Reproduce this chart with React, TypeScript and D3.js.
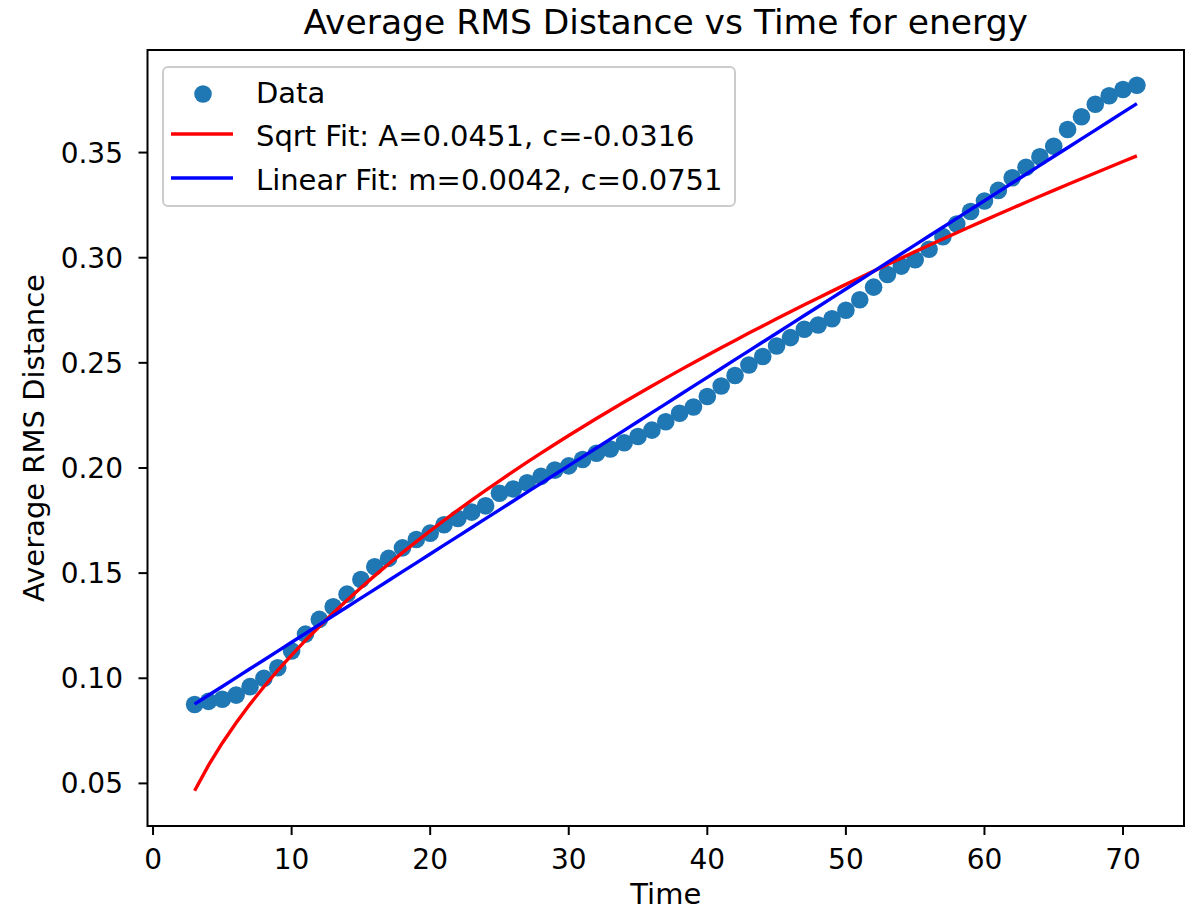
import React from "react";
import * as d3 from "d3";

const times: number[] = [
  3, 4, 5, 6, 7, 8, 9, 10, 11, 12, 13, 14, 15, 16, 17, 18, 19, 20, 21, 22, 23, 24, 25, 26, 27, 28, 29, 30,
  31, 32, 33, 34, 35, 36, 37, 38, 39, 40, 41, 42, 43, 44, 45, 46, 47, 48, 49, 50, 51, 52, 53, 54, 55, 56,
  57, 58, 59, 60, 61, 62, 63, 64, 65, 66, 67, 68, 69, 70, 71,
];

const rmsDistance: number[] = [
  0.0875, 0.089, 0.09, 0.092, 0.096, 0.1, 0.105, 0.113, 0.121, 0.128, 0.134, 0.14, 0.147, 0.153, 0.157,
  0.162, 0.166, 0.169, 0.173, 0.176, 0.179, 0.182, 0.188, 0.19, 0.193, 0.196, 0.199, 0.201, 0.204, 0.207,
  0.209, 0.212, 0.215, 0.218, 0.222, 0.226, 0.229, 0.234, 0.239, 0.244, 0.249, 0.253, 0.258, 0.262, 0.266,
  0.268, 0.271, 0.275, 0.28, 0.286, 0.292, 0.296, 0.299, 0.304, 0.31, 0.316, 0.322, 0.327, 0.332, 0.338,
  0.343, 0.348, 0.353, 0.361, 0.367, 0.373, 0.377, 0.38, 0.382,
];

// Fit parameters as shown in the legend
const sqrtA = 0.0451;
const sqrtC = -0.0316;
const linM = 0.0042;
const linC = 0.0751;

const xTicks: number[] = [0, 10, 20, 30, 40, 50, 60, 70];
const yTicks: number[] = [0.05, 0.1, 0.15, 0.2, 0.25, 0.3, 0.35];

const legendLabels: string[] = [
  "Data",
  `Sqrt Fit: A=${sqrtA.toFixed(4)}, c=${sqrtC.toFixed(4)}`,
  `Linear Fit: m=${linM.toFixed(4)}, c=${linC.toFixed(4)}`,
];

const W = 1186;
const H = 910;
const FONT = "DejaVu Sans, Liberation Sans, sans-serif";

export default function App() {
  const left = 147.5;
  const right = 1184;
  const top = 50;
  const bottom = 826;

  const sqrtVals = times.map((t) => sqrtA * Math.sqrt(t) + sqrtC);
  const linVals = times.map((t) => linM * t + linC);

  const xMinD = d3.min(times)!;
  const xMaxD = d3.max(times)!;
  const xPad = (xMaxD - xMinD) * 0.05;
  const allY = [...rmsDistance, ...sqrtVals, ...linVals];
  const yMinD = d3.min(allY)!;
  const yMaxD = d3.max(allY)!;
  const yPad = (yMaxD - yMinD) * 0.05;

  const x = d3.scaleLinear().domain([xMinD - xPad, xMaxD + xPad]).range([left, right]);
  const y = d3.scaleLinear().domain([yMinD - yPad, yMaxD + yPad]).range([bottom, top]);

  const line = d3
    .line<number>()
    .x((_, i) => x(times[i]))
    .y((d) => y(d));

  const tickLen = 9;
  const tickFont = 28;

  return (
    <svg
      width={W}
      height={H}
      style={{ position: "absolute", left: 0, top: 0, background: "#fff" }}
      fontFamily={FONT}
    >
      <rect x={0} y={0} width={W} height={H} fill="#fff" />
      {/* title */}
      <text x={(left + right) / 2} y={34} textAnchor="middle" fontSize={34.5} fill="#000">
        Average RMS Distance vs Time for energy
      </text>

      {/* data points */}
      <g fill="#1f77b4">
        {rmsDistance.map((v, i) => (
          <circle key={i} cx={x(times[i])} cy={y(v)} r={8.8} />
        ))}
      </g>

      {/* fits */}
      <path d={line(sqrtVals) || ""} fill="none" stroke="#ff0000" strokeWidth={3.4} />
      <path d={line(linVals) || ""} fill="none" stroke="#0000ff" strokeWidth={3.4} />

      {/* frame */}
      <rect
        x={left}
        y={top}
        width={right - left}
        height={bottom - top}
        fill="none"
        stroke="#000"
        strokeWidth={2}
      />

      {/* x ticks */}
      {xTicks.map((t) => (
        <g key={"x" + t}>
          <line x1={x(t)} x2={x(t)} y1={bottom} y2={bottom + tickLen} stroke="#000" strokeWidth={2} />
          <text x={x(t)} y={869} textAnchor="middle" fontSize={tickFont} fill="#000">
            {t}
          </text>
        </g>
      ))}

      {/* y ticks */}
      {yTicks.map((t) => (
        <g key={"y" + t}>
          <line x1={left - tickLen} x2={left} y1={y(t)} y2={y(t)} stroke="#000" strokeWidth={2} />
          <text
            x={123}
            y={y(t)}
            dy="0.36em"
            textAnchor="end"
            fontSize={tickFont}
            fill="#000"
          >
            {t.toFixed(2)}
          </text>
        </g>
      ))}

      {/* axis labels */}
      <text x={(left + right) / 2} y={904} textAnchor="middle" fontSize={29} fill="#000">
        Time
      </text>
      <text
        transform={`translate(44, ${(top + bottom) / 2}) rotate(-90)`}
        textAnchor="middle"
        fontSize={29}
        fill="#000"
      >
        Average RMS Distance
      </text>

      {/* legend */}
      <g>
        <rect
          x={163}
          y={67}
          width={572}
          height={139}
          rx={5}
          fill="#fff"
          fillOpacity={0.8}
          stroke="#cccccc"
          strokeWidth={2}
        />
        <circle cx={203} cy={94} r={8.8} fill="#1f77b4" />
        <line x1={171} x2={233} y1={134} y2={134} stroke="#ff0000" strokeWidth={3.4} />
        <line x1={171} x2={233} y1={178} y2={178} stroke="#0000ff" strokeWidth={3.4} />
        {legendLabels.map((l, i) => (
          <text key={l} x={256} y={102.5 + i * 43.5} fontSize={29} fill="#000">
            {l}
          </text>
        ))}
      </g>
    </svg>
  );
}
